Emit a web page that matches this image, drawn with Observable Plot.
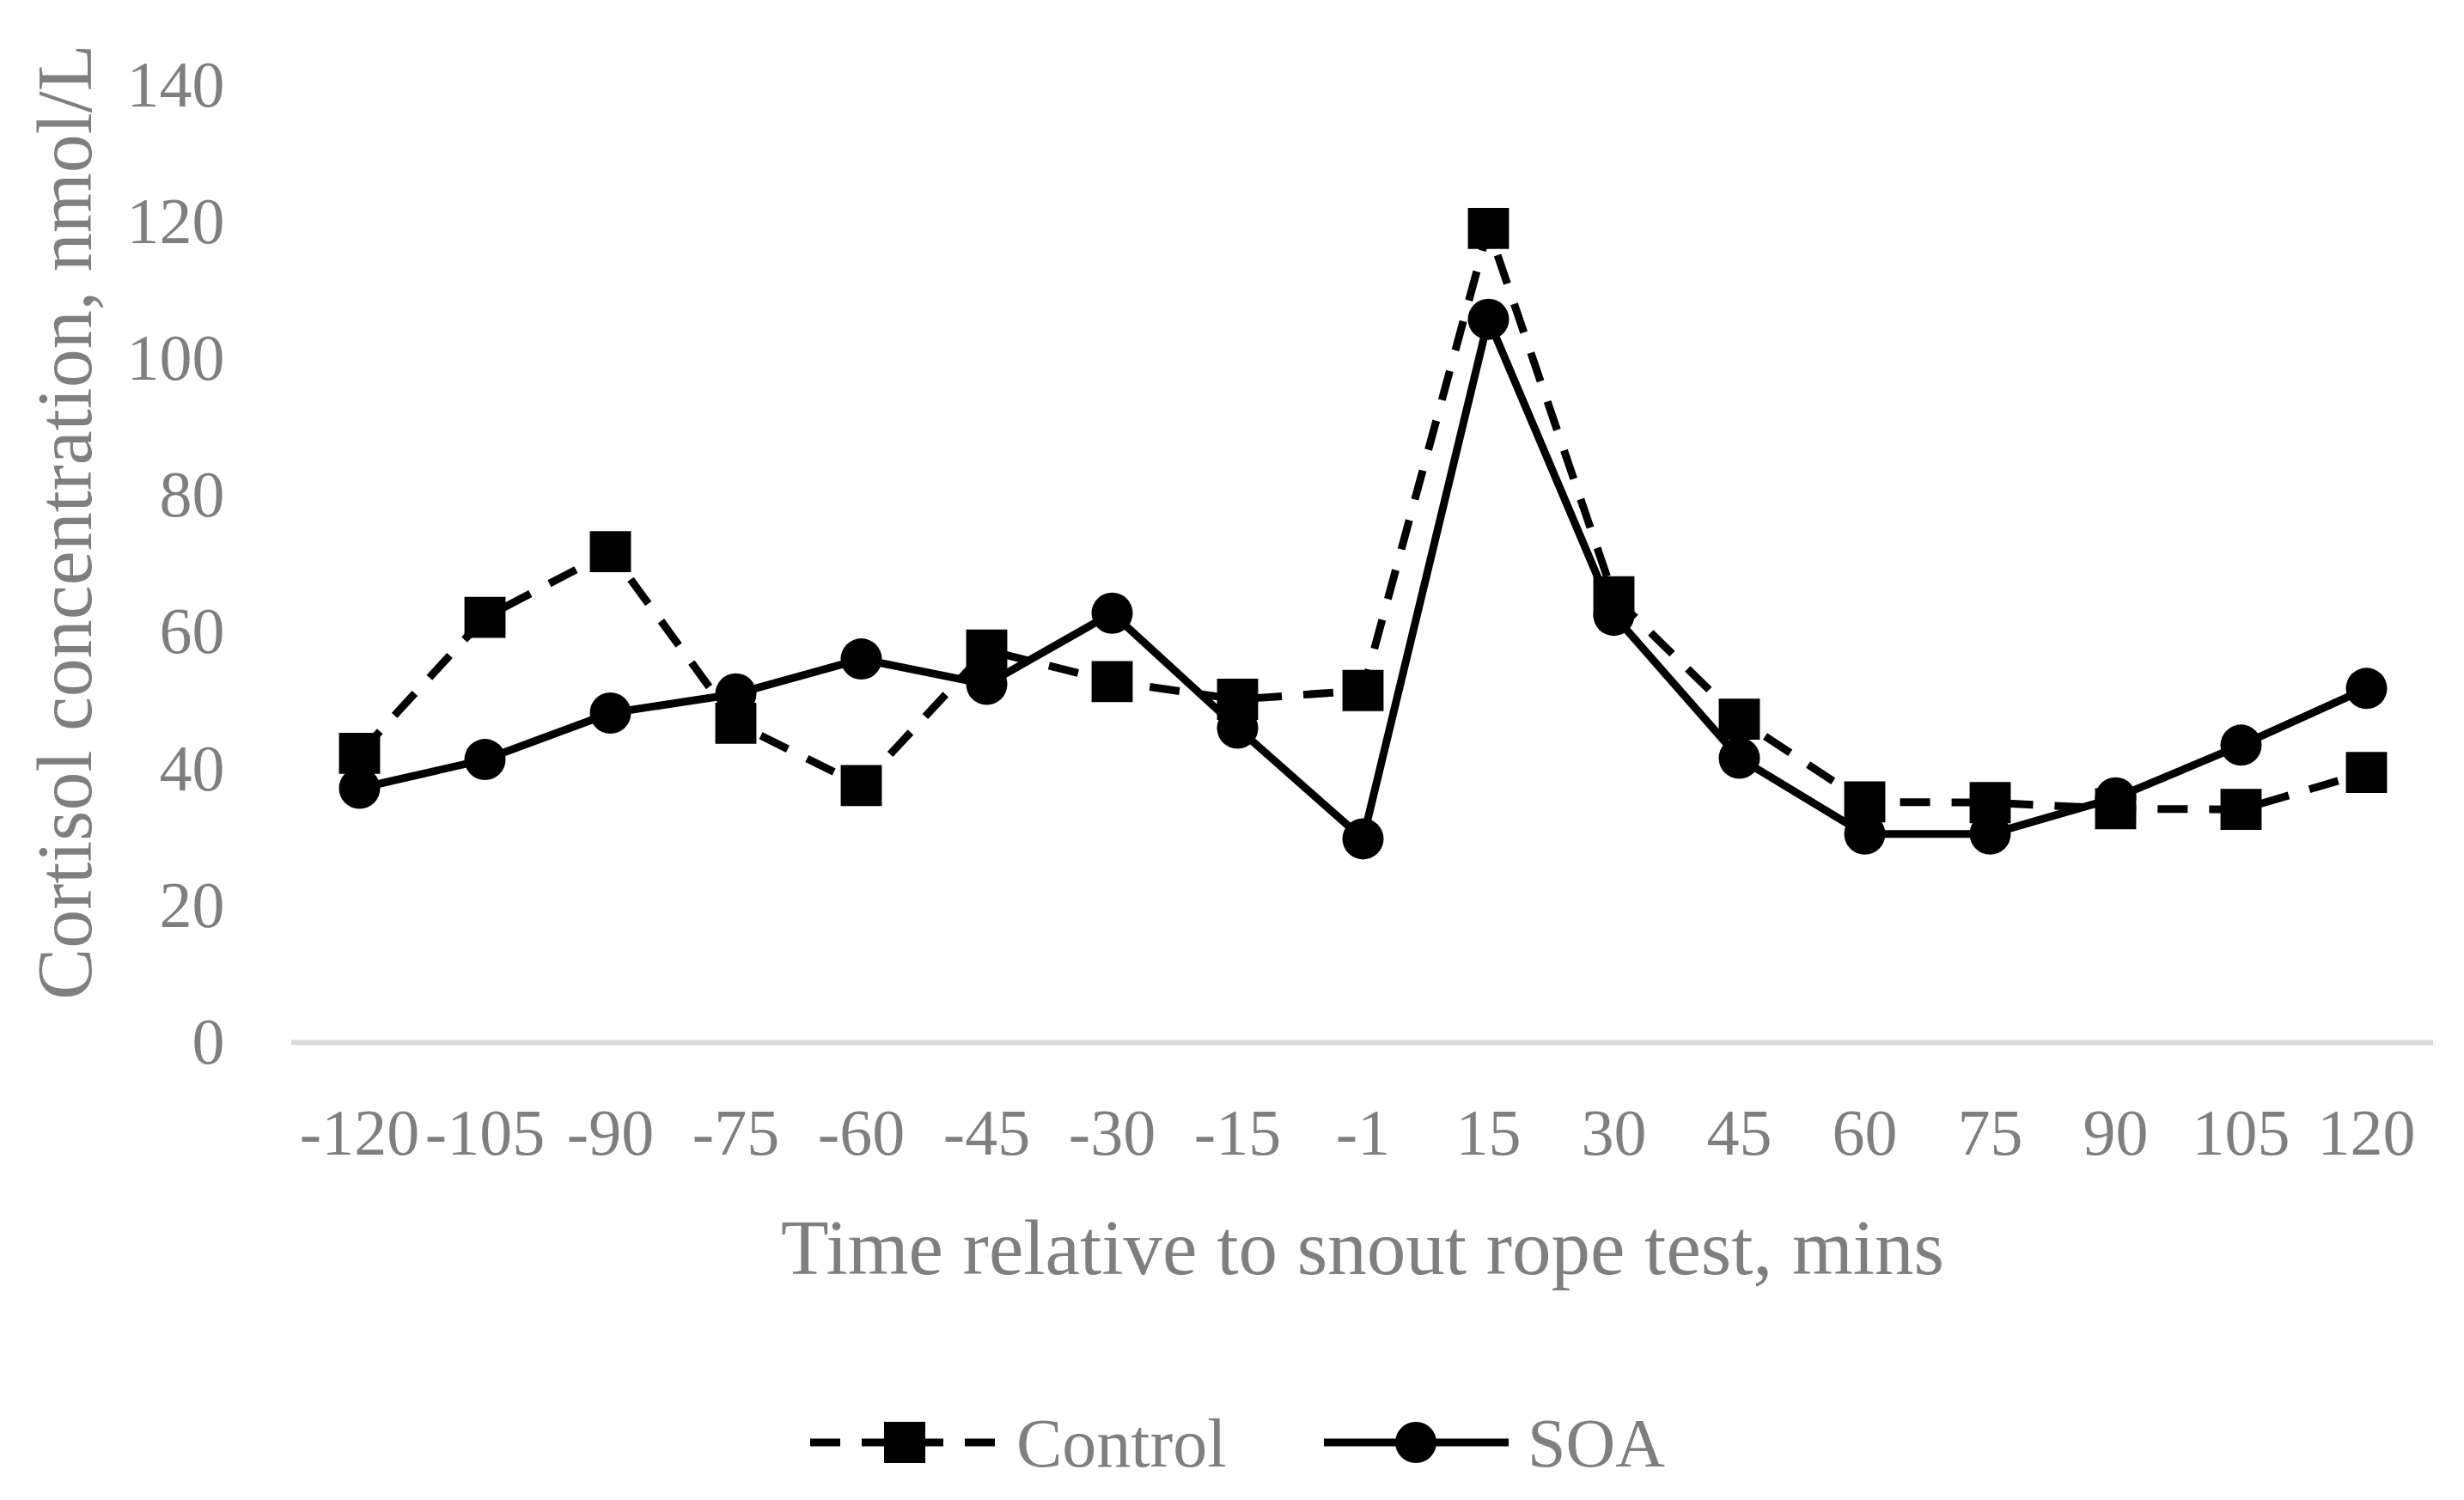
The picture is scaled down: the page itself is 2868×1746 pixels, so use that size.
<!DOCTYPE html>
<html>
<head>
<meta charset="utf-8">
<script src="https://cdn.jsdelivr.net/npm/d3@7"></script>
<script src="https://cdn.jsdelivr.net/npm/@observablehq/plot@0.6"></script>
<style>
  html, body { margin: 0; padding: 0; background: #fff; }
  #chart { width: 2868px; }
  #legend { width: 2868px; height: 186px; display: block; }
</style>
</head>
<body>
<div id="chart"></div>
<svg id="legend" width="2868" height="186"></svg>
<script>
const times = ["-120","-105","-90","-75","-60","-45","-30","-15","-1","15","30","45","60","75","90","105","120"];
const controlValues = [42.3, 62.2, 71.8, 46.7, 37.6, 57.4, 52.8, 50.2, 51.5, 119.1, 65.2, 47.3, 35.2, 35.1, 34.2, 34.1, 39.5];
const soaValues = [37.2, 41.4, 48.2, 51.0, 56.1, 52.4, 62.8, 46.0, 29.8, 105.8, 62.5, 41.6, 30.5, 30.5, 35.8, 43.5, 51.8];
const yTicks = [0, 20, 40, 60, 80, 100, 120, 140];
const seriesNames = ["Control", "SOA"];
const xTitle = "Time relative to snout rope test, mins";
const yTitle = "Cortisol concentration, nmol/L";

const control = times.map((t, i) => ({t, v: controlValues[i]}));
const soa = times.map((t, i) => ({t, v: soaValues[i]}));

const FONT = "'Liberation Serif', 'DejaVu Serif', serif";
const GRAY = "#7f7f7f";

const plot = Plot.plot({
  width: 2868,
  height: 1560,
  marginLeft: 339,
  marginRight: 36,
  marginTop: 99,
  marginBottom: 347,
  style: {fontFamily: FONT, fontSize: "76px", background: "#fff", overflow: "visible"},
  x: {type: "point", domain: times, padding: 0.5, align: 0.5},
  y: {domain: [0, 140]},
  marks: [
    Plot.ruleY([0], {stroke: "#d9d9d9", strokeWidth: 6}),
    Plot.axisX({tickSize: 0, tickPadding: 77, fontSize: 76, fill: GRAY, label: null}),
    Plot.axisY({ticks: yTicks, tickSize: 0, tickPadding: 78, fontSize: 76, fill: GRAY, label: null}),
    Plot.line(control, {x: "t", y: "v", stroke: "black", strokeWidth: 9, strokeDasharray: "35,25", strokeLinecap: "butt", strokeLinejoin: "round"}),
    Plot.dot(control, {x: "t", y: "v", symbol: "square", r: 27, fill: "black", stroke: "none"}),
    Plot.line(soa, {x: "t", y: "v", stroke: "black", strokeWidth: 9, strokeLinejoin: "round"}),
    Plot.dot(soa, {x: "t", y: "v", symbol: "circle", r: 24, fill: "black", stroke: "none"}),
    Plot.text([xTitle], {frameAnchor: "bottom", dy: 240, fontSize: 91, fill: GRAY, lineAnchor: "middle"}),
    Plot.text([yTitle], {frameAnchor: "left", dx: -262, dy: -49, rotate: -90, fontSize: 90, fill: GRAY, lineAnchor: "middle", textAnchor: "middle"})
  ]
});
document.getElementById("chart").appendChild(plot);

// Legend (below the chart)
const lg = d3.select("#legend");
const cy = 1679 - 1560;
lg.append("line").attr("x1", 943).attr("x2", 1162).attr("y1", cy).attr("y2", cy)
  .attr("stroke", "black").attr("stroke-width", 9).attr("stroke-dasharray", "35,25");
lg.append("rect").attr("x", 1053 - 24).attr("y", cy - 24).attr("width", 48).attr("height", 48).attr("fill", "black");
lg.append("text").attr("x", 1183).attr("y", cy).attr("dy", "0.35em").attr("font-family", FONT)
  .attr("font-size", 80).attr("fill", GRAY).text(seriesNames[0]);
lg.append("line").attr("x1", 1541).attr("x2", 1756).attr("y1", cy).attr("y2", cy)
  .attr("stroke", "black").attr("stroke-width", 9);
lg.append("circle").attr("cx", 1648).attr("cy", cy).attr("r", 24).attr("fill", "black");
lg.append("text").attr("x", 1778).attr("y", cy).attr("dy", "0.35em").attr("font-family", FONT)
  .attr("font-size", 80).attr("fill", GRAY).text(seriesNames[1]);
</script>
</body>
</html>
